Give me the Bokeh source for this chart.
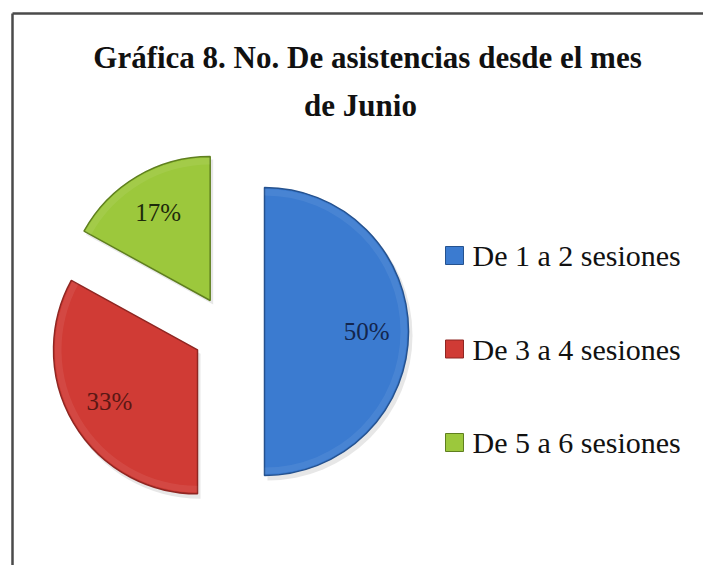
import numpy as np
from bokeh.plotting import figure
from bokeh.models import Range1d, ColumnDataSource
from bokeh.core.properties import value
from bokeh.embed import file_html
from bokeh.resources import INLINE

# ---- data ----
categories = ["De 1 a 2 sesiones", "De 3 a 4 sesiones", "De 5 a 6 sesiones"]
percent = [50, 33, 17]
colors = ["#3b7bd0", "#d03b35", "#9cc83c"]
edge_colors = ["#25528f", "#8f2622", "#5f7f1f"]
label_colors = ["#13264d", "#5a1714", "#1d2a0b"]
title_lines = ["Gráfica 8. No. De asistencias desde el mes", "de Junio"]

W, H = 703, 565
p = figure(width=W, height=H, output_backend="svg", toolbar_location=None,
           x_range=Range1d(0, W), y_range=Range1d(0, H), min_border=0,
           background_fill_color="white", border_fill_color="white")
p.axis.visible = False
p.grid.visible = False
p.outline_line_color = None

# frame (left and top edges visible, the rest lies outside the picture)
p.line(x=[12, 12], y=[0, 552], line_color="#4a4a4a", line_width=2.5)
p.line(x=[12, W], y=[552, 552], line_color="#4a4a4a", line_width=2.5)

# ---- pie geometry ----
vals = np.array(percent, dtype=float)
frac = vals / vals.sum()
cum = np.concatenate([[0], np.cumsum(frac)])
start = np.radians(90 - 360 * cum[1:])
end = np.radians(90 - 360 * cum[:-1])
mid = (start + end) / 2
cx, cy, R, explode = 228.0, 234.0, 144.0, 36.0
xs = cx + explode * np.cos(mid)
ys = cy + explode * np.sin(mid)

src = ColumnDataSource(dict(x=xs, y=ys, start=start, end=end, color=colors,
                            edge=edge_colors, cat=categories,
                            lx=xs + 0.71 * R * np.cos(mid),
                            ly=ys + 0.71 * R * np.sin(mid),
                            lab=[f"{v:.0f}%" for v in frac * 100],
                            lcol=label_colors,
                            sx=xs + 3, sy=ys - 4))

# shadow
p.wedge(x="sx", y="sy", radius=R + 1, start_angle="start", end_angle="end",
        fill_color="#888888", fill_alpha=0.2, line_color=None, source=src)
# slices
p.wedge(x="x", y="y", radius=R, start_angle="start", end_angle="end",
        fill_color="color", line_color="edge", line_width=1.5, source=src)
# bevel highlight on the rim
p.annular_wedge(x="x", y="y", inner_radius=R - 8, outer_radius=R - 1.5,
                start_angle="start", end_angle="end", fill_color="white",
                fill_alpha=0.07, line_color=None, source=src)

p.text(x="lx", y="ly", text="lab", text_color="lcol", text_align="center",
       text_baseline="middle", text_font=value("Liberation Serif"),
       text_font_size="25px", source=src)

# ---- title ----
p.text(x=[367, 360], y=[508, 460], text=title_lines, text_align="center",
       text_baseline="middle", text_font=value("Liberation Serif"),
       text_font_style="bold", text_font_size="31px", text_color="#111111")

# ---- legend ----
ly0, lstep = 310.0, 93.5
leg = ColumnDataSource(dict(y=[ly0 - i * lstep for i in range(len(categories))],
                            cat=categories, color=colors, edge=edge_colors))
p.rect(x=454, y="y", width=18, height=18, fill_color="color",
       line_color="edge", line_width=1, source=leg)
p.text(x=472, y="y", text="cat", text_align="left", text_baseline="middle",
       text_font=value("Liberation Serif"), text_font_size="30px",
       text_color="#111111", source=leg)

open("out.html", "w").write(file_html(p, INLINE))
